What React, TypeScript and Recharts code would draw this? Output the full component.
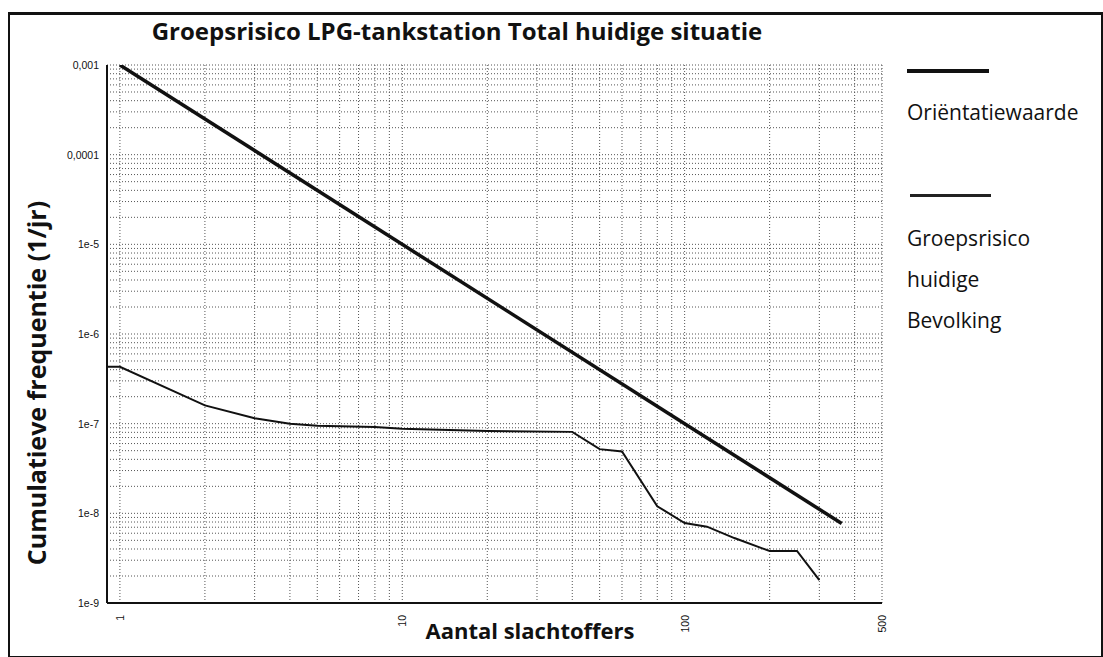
import { LineChart, Line, XAxis, YAxis, CartesianGrid } from 'recharts'

// cumulative frequency (1/jr) against number of victims
const orientatieN = [1, 360]
const orientatieF = [1e-3, 7.7e-9]

const groepsrisicoN = [0.9, 1, 2, 3, 4, 5, 8, 10, 20, 40, 50, 60, 80, 100, 120, 150, 200, 250, 300]
const groepsrisicoF = [
  4.3e-7, 4.3e-7, 1.6e-7, 1.15e-7, 1.0e-7, 9.5e-8, 9.2e-8, 8.8e-8, 8.3e-8, 8.1e-8,
  5.2e-8, 4.9e-8, 1.2e-8, 7.8e-9, 7.1e-9, 5.3e-9, 3.8e-9, 3.8e-9, 1.8e-9
]

const xTicks = [1, 2, 3, 4, 5, 6, 7, 8, 9, 10, 20, 30, 40, 50, 60, 70, 80, 90, 100, 200, 300, 400, 500]
const xLabelValues = [1, 10, 100, 500]
const xLabelTexts = ['1', '10', '100', '500']

const yTicks = [
  1e-9, 2e-9, 3e-9, 4e-9, 5e-9, 6e-9, 7e-9, 8e-9, 9e-9,
  1e-8, 2e-8, 3e-8, 4e-8, 5e-8, 6e-8, 7e-8, 8e-8, 9e-8,
  1e-7, 2e-7, 3e-7, 4e-7, 5e-7, 6e-7, 7e-7, 8e-7, 9e-7,
  1e-6, 2e-6, 3e-6, 4e-6, 5e-6, 6e-6, 7e-6, 8e-6, 9e-6,
  1e-5, 2e-5, 3e-5, 4e-5, 5e-5, 6e-5, 7e-5, 8e-5, 9e-5,
  1e-4, 2e-4, 3e-4, 4e-4, 5e-4, 6e-4, 7e-4, 8e-4, 9e-4,
  1e-3
]
const yLabelValues = [1e-9, 1e-8, 1e-7, 1e-6, 1e-5, 1e-4, 1e-3]
const yLabelTexts = ['1e-9', '1e-8', '1e-7', '1e-6', '1e-5', '0,0001', '0,001']

const orientatieData = orientatieN.map((n, i) => ({ n, f: orientatieF[i] }))
const groepsrisicoData = groepsrisicoN.map((n, i) => ({ n, f: groepsrisicoF[i] }))

const findLabel = (v: number, values: number[], texts: string[]) => {
  const i = values.findIndex(lv => Math.abs(v / lv - 1) < 1e-6)
  return i >= 0 ? texts[i] : null
}

const tickFont = '"Liberation Sans", Arial, sans-serif'

const XTick = (props: any) => {
  const { x, y, payload } = props
  const label = findLabel(payload.value, xLabelValues, xLabelTexts)
  if (!label) return <g />
  return (
    <text
      x={x}
      y={y + 4}
      transform={`rotate(-90, ${x}, ${y + 4})`}
      textAnchor="end"
      dominantBaseline="central"
      fontSize={10.5}
      fontFamily={tickFont}
      fill="#111"
    >
      {label}
    </text>
  )
}

const YTick = (props: any) => {
  const { x, y, payload } = props
  const label = findLabel(payload.value, yLabelValues, yLabelTexts)
  if (!label) return <g />
  return (
    <text x={x} y={y} textAnchor="end" dominantBaseline="central" fontSize={10.5} fontFamily={tickFont} fill="#111">
      {label}
    </text>
  )
}

const textFont = '"Open Sans", "Noto Sans", sans-serif'

export default function App() {
  return (
    <div style={{ position: 'absolute', left: 0, top: 0, width: 1103, height: 657, background: '#fff' }}>
      <div
        style={{
          position: 'absolute', left: 8, top: 12, width: 1091, height: 641,
          borderTop: '3px solid #111', borderLeft: '2px solid #111',
          borderRight: '2px solid #111', borderBottom: '2px solid #111'
        }}
      />
      <div
        style={{
          position: 'absolute', left: 0, top: 16, width: 914, textAlign: 'center',
          fontFamily: textFont, fontWeight: 700, fontSize: 24, lineHeight: '30px', color: '#111'
        }}
      >
        Groepsrisico LPG-tankstation Total huidige situatie
      </div>

      <LineChart
        width={1103}
        height={657}
        margin={{ top: 65, right: 221, bottom: 24, left: 43 }}
        style={{ position: 'absolute', left: 0, top: 0 }}
      >
        <CartesianGrid stroke="#555" strokeDasharray="1 2" />
        <XAxis
          dataKey="n"
          type="number"
          scale="log"
          domain={[0.9, 500]}
          allowDataOverflow
          ticks={xTicks}
          interval={0}
          tick={<XTick />}
          tickLine={false}
          axisLine={{ stroke: '#111', strokeWidth: 2 }}
          height={30}
        />
        <XAxis
          xAxisId="top"
          orientation="top"
          type="number"
          scale="log"
          domain={[0.9, 500]}
          allowDataOverflow
          tick={false}
          tickLine={false}
          axisLine={{ stroke: '#111', strokeWidth: 2 }}
          height={0}
        />
        <YAxis
          type="number"
          scale="log"
          domain={[1e-9, 1e-3]}
          allowDataOverflow
          ticks={yTicks}
          interval={0}
          tick={<YTick />}
          tickLine={false}
          axisLine={{ stroke: '#111', strokeWidth: 2 }}
          width={64}
        />
        <YAxis
          yAxisId="right"
          orientation="right"
          type="number"
          scale="log"
          domain={[1e-9, 1e-3]}
          allowDataOverflow
          tick={false}
          tickLine={false}
          axisLine={{ stroke: '#111', strokeWidth: 2 }}
          width={0}
        />
        <Line
          data={orientatieData}
          dataKey="f"
          type="linear"
          stroke="#111"
          strokeWidth={3.5}
          dot={false}
          isAnimationActive={false}
          name="Oriëntatiewaarde"
        />
        <Line
          data={groepsrisicoData}
          dataKey="f"
          type="linear"
          stroke="#111"
          strokeWidth={2}
          dot={false}
          isAnimationActive={false}
          name="Groepsrisico huidige Bevolking"
        />
      </LineChart>

      <div
        style={{
          position: 'absolute', left: 0, top: 616, width: 1060, textAlign: 'center',
          fontFamily: textFont, fontWeight: 700, fontSize: 22, lineHeight: '28px', color: '#111'
        }}
      >
        Aantal slachtoffers
      </div>
      <div
        style={{
          position: 'absolute', left: 36, top: 383, width: 460, marginLeft: -230, marginTop: -15,
          transform: 'rotate(-90deg)', textAlign: 'center',
          fontFamily: textFont, fontWeight: 700, fontSize: 25, lineHeight: '30px', color: '#111'
        }}
      >
        Cumulatieve frequentie (1/jr)
      </div>

      <div style={{ position: 'absolute', left: 907, top: 69, width: 82, height: 4, background: '#111' }} />
      <div style={{ position: 'absolute', left: 907, top: 98, fontFamily: textFont, fontSize: 21, lineHeight: '28px', color: '#111' }}>
        Oriëntatiewaarde
      </div>
      <div style={{ position: 'absolute', left: 910, top: 194, width: 81, height: 3, background: '#222' }} />
      <div style={{ position: 'absolute', left: 907, top: 218, fontFamily: textFont, fontSize: 21, lineHeight: '41px', color: '#111' }}>
        Groepsrisico
        <br />
        huidige
        <br />
        Bevolking
      </div>
    </div>
  )
}
